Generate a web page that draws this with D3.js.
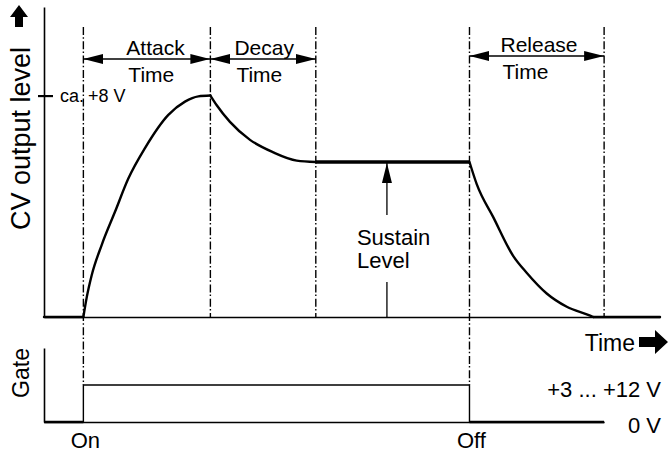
<!DOCTYPE html>
<html>
<head>
<meta charset="utf-8">
<script src="https://cdn.jsdelivr.net/npm/d3@7"></script>
<style>
  body { margin: 0; background: #fff; }
  svg { display: block; font-family: 'Liberation Sans', Arial, sans-serif; }
  text { fill: #000; }
  .curve { fill: none; stroke: #000; stroke-width: 2.4; stroke-linejoin: round; stroke-linecap: round; }
  .sustain { fill: none; stroke: #000; stroke-width: 3.6; }
  .guide { stroke: #000; stroke-width: 1.4; stroke-dasharray: 8 2.2 1.5 2.6; }
  .axis .domain { stroke: #000; stroke-width: 1.6; }
  .axis .tick line { stroke: #000; stroke-width: 2.2; }
  .dim { stroke: #000; stroke-width: 1.3; }
  .gate { fill: none; stroke: #000; stroke-width: 1.4; }
  .gate-low { fill: none; stroke: #000; stroke-width: 2.6; }
  .narrow { font-family: 'Liberation Sans Narrow', 'Arial Narrow', 'Liberation Sans', sans-serif; }
</style>
</head>
<body>
<svg id="chart" width="669" height="454"></svg>
<script>
// time in arbitrary units (attack = 100), level in volts
const timeDomain = [-31, 454]
const voltDomain = [0, 11.2]
const peakLevel = 8
const sustainLevel = 5.6

const attackCurve = [[0, 0], [2.6, 0.7], [6.5, 1.5], [14.4, 2.6], [24.9, 3.8], [35.4, 5.0],
  [48.5, 6.1], [66.9, 7.3], [80, 7.78], [90.5, 7.97], [100, 8]]
const decayCurve = [[100, 8], [105, 7.65], [115.4, 7.05], [131.2, 6.4], [149.5, 5.95],
  [168, 5.65], [183, 5.6]]
const releaseCurve = [[304, 5.6], [309.7, 4.8], [322.8, 3.6], [338.5, 2.2], [349, 1.6],
  [364.8, 0.85], [380.6, 0.37], [399, 0.05], [401.5, 0]]

const stageNames = ['Attack', 'Decay', 'Release']
const stageStart = [0, 100, 304]
const stageEnd = [100, 183, 410]
const gateTimes = [0, 304]
const gateEnd = 410
const sustainMarkerTime = 239

// layout only
const stageLabelOffset = [[43, 0], [24, 0], [31, -3]]

const svg = d3.select('#chart')
const defs = svg.append('defs')

const x = d3.scaleLinear().domain(timeDomain).range([44, 660])
const y = d3.scaleLinear().domain(voltDomain).range([317, 7])
const yGate = d3.scaleLinear().domain([0, 2]).range([422, 348])

// arrow heads
defs.append('marker')
  .attr('id', 'head')
  .attr('markerUnits', 'userSpaceOnUse')
  .attr('viewBox', '0 -5 20 10')
  .attr('refX', 20).attr('refY', 0)
  .attr('markerWidth', 20).attr('markerHeight', 10)
  .attr('orient', 'auto-start-reverse')
  .append('path')
  .attr('d', 'M0,-5L20,0L0,5Z')
  .attr('fill', '#000')

// CV axis
const yAxis = svg.append('g')
  .attr('class', 'axis')
  .attr('transform', `translate(${x(timeDomain[0])},0)`)
  .call(d3.axisLeft(y).tickValues([peakLevel]).tickFormat('').tickSizeOuter(0))
yAxis.selectAll('.tick line').attr('x1', -6).attr('x2', 9)

svg.append('g')
  .attr('class', 'axis')
  .attr('transform', `translate(0,${y(0)})`)
  .call(d3.axisBottom(x).tickValues([]).tickSizeOuter(0))

// gate axis
svg.append('g')
  .attr('class', 'axis')
  .attr('transform', `translate(${x(timeDomain[0])},0)`)
  .call(d3.axisLeft(yGate).tickValues([]).tickSizeOuter(0))

svg.append('g')
  .attr('class', 'axis')
  .attr('transform', `translate(0,${yGate(0)})`)
  .call(d3.axisBottom(d3.scaleLinear().domain([timeDomain[0], gateEnd]).range([x(timeDomain[0]), x(gateEnd)]))
    .tickValues([]).tickSizeOuter(0))

// dash-dot guides
const guideTimes = d3.sort(new Set([...stageStart, ...stageEnd]))
svg.append('g')
  .selectAll('line')
  .data(guideTimes)
  .join('line')
  .attr('class', 'guide')
  .attr('x1', d => x(d)).attr('x2', d => x(d))
  .attr('y1', 27)
  .attr('y2', d => gateTimes.includes(d) ? yGate(1) : y(0))

// envelope
const line = d3.line().x(d => x(d[0])).y(d => y(d[1]))
const smooth = d3.line().x(d => x(d[0])).y(d => y(d[1])).curve(d3.curveMonotoneX)

svg.append('path').attr('class', 'curve')
  .attr('d', line([[timeDomain[0], 0], [0, 0]]))
svg.append('path').attr('class', 'curve').attr('d', smooth(attackCurve))
svg.append('path').attr('class', 'curve').attr('d', smooth(decayCurve))
svg.append('path').attr('class', 'sustain')
  .attr('d', line([[stageEnd[1], sustainLevel], [stageStart[2], sustainLevel]]))
svg.append('path').attr('class', 'curve').attr('d', smooth(releaseCurve))
svg.append('path').attr('class', 'curve')
  .attr('d', line([releaseCurve[releaseCurve.length - 1], [timeDomain[1], 0]]))

// stage dimension arrows and labels
const stages = svg.append('g')
  .selectAll('g')
  .data(stageNames.map((name, i) => ({name, from: stageStart[i], to: stageEnd[i], off: stageLabelOffset[i]})))
  .join('g')
  .attr('transform', d => `translate(0,${d.off[1]})`)

stages.append('line')
  .attr('class', 'dim')
  .attr('x1', d => x(d.from)).attr('x2', d => x(d.to))
  .attr('y1', 59).attr('y2', 59)
  .attr('marker-start', 'url(#head)')
  .attr('marker-end', 'url(#head)')

stages.append('text')
  .attr('x', d => x(d.from) + d.off[0])
  .attr('y', 55)
  .style('font-size', '21px')
  .text(d => d.name)

stages.append('text')
  .attr('x', d => x(d.from) + d.off[0] + 2)
  .attr('y', 82)
  .style('font-size', '21px')
  .text('Time')

// sustain level marker
const sx = x(sustainMarkerTime)
svg.append('line').attr('class', 'dim')
  .attr('x1', sx).attr('x2', sx).attr('y1', y(0)).attr('y2', 282)
svg.append('line').attr('class', 'dim')
  .attr('x1', sx).attr('x2', sx).attr('y1', 215).attr('y2', y(sustainLevel) + 1)
  .attr('marker-end', 'url(#head)')
svg.append('text')
  .attr('x', sx - 30).attr('y', 245)
  .style('font-size', '22px')
  .text('Sustain')
svg.append('text')
  .attr('x', sx - 30).attr('y', 268)
  .style('font-size', '22px')
  .text('Level')

// peak label
svg.append('text')
  .attr('class', 'narrow')
  .attr('x', 60).attr('y', y(peakLevel) + 6)
  .style('font-size', '18px')
  .call(t => t.append('tspan').text('ca.'))
  .call(t => t.append('tspan').attr('x', 88).text(`+${peakLevel} V`))

// gate signal
const gateLine = d3.line().x(d => x(d[0])).y(d => yGate(d[1]))
svg.append('path').attr('class', 'gate')
  .attr('d', gateLine([[gateTimes[0], 0], [gateTimes[0], 1], [gateTimes[1], 1], [gateTimes[1], 0]]))
svg.append('path').attr('class', 'gate-low')
  .attr('d', gateLine([[timeDomain[0], 0], [gateTimes[0], 0]]))
svg.append('path').attr('class', 'gate-low')
  .attr('d', gateLine([[gateTimes[1], 0], [gateEnd, 0]]))

svg.selectAll('.gate-label')
  .data([['On', gateTimes[0]], ['Off', gateTimes[1]]])
  .join('text')
  .attr('class', 'gate-label')
  .attr('x', d => x(d[1]) + 2).attr('y', 448)
  .attr('text-anchor', 'middle')
  .style('font-size', '22px')
  .text(d => d[0])

svg.append('text')
  .attr('x', 661).attr('y', 397)
  .attr('text-anchor', 'end')
  .style('font-size', '22px')
  .text('+3 ... +12 V')
svg.append('text')
  .attr('x', 661).attr('y', 433)
  .attr('text-anchor', 'end')
  .style('font-size', '22px')
  .text('0 V')

// axis titles
svg.append('text')
  .attr('transform', 'translate(30,230) rotate(-90)')
  .style('font-size', '27px')
  .text('CV output level')
svg.append('path')
  .attr('d', 'M19,5L28,17L23,17L23,27L15,27L15,17L10,17Z')
  .attr('fill', '#000')

svg.append('text')
  .attr('transform', 'translate(29,373) rotate(-90)')
  .attr('text-anchor', 'middle')
  .style('font-size', '23px')
  .text('Gate')

svg.append('text')
  .attr('x', 635).attr('y', 351)
  .attr('text-anchor', 'end')
  .style('font-size', '23px')
  .text('Time')
svg.append('path')
  .attr('d', 'M668,342L655,330L655,337L639,337L639,347L655,347L655,354Z')
  .attr('fill', '#000')
</script>
</body>
</html>
